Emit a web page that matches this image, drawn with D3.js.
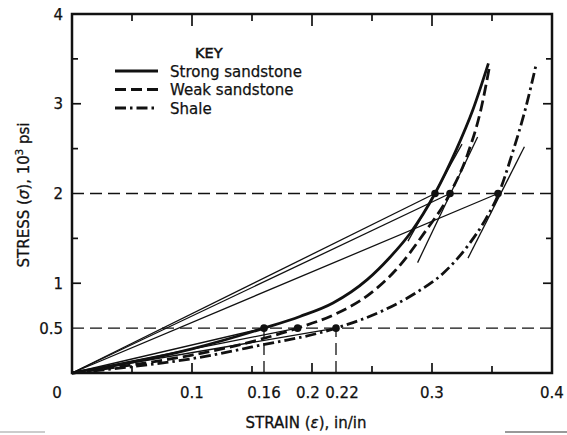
<!DOCTYPE html>
<html><head><meta charset="utf-8">
<script src="https://cdn.jsdelivr.net/npm/d3@7"></script>
<style>
html,body{margin:0;padding:0;background:#fff;}
svg{display:block;}
text{font-family:"DejaVu Sans",Verdana,sans-serif;fill:#111;}
</style></head>
<body>
<svg id="c" width="567" height="435"></svg>
<script>
// ---- data (strain in in/in, stress in 10^3 psi) ----
const strongEps = [0, 0.05, 0.10, 0.16, 0.19, 0.2175, 0.246, 0.265, 0.282, 0.3025, 0.32, 0.334, 0.347];
const strongSig = [0, 0.12, 0.27, 0.50, 0.63, 0.78, 1.04, 1.29, 1.56, 2.00, 2.48, 2.93, 3.45];
const weakEps = [0, 0.05, 0.10, 0.15, 0.188, 0.22, 0.246, 0.27, 0.293, 0.315, 0.33, 0.341, 0.348];
const weakSig = [0, 0.09, 0.20, 0.35, 0.50, 0.66, 0.86, 1.15, 1.55, 2.00, 2.45, 2.95, 3.42];
const shaleEps = [0, 0.05, 0.10, 0.15, 0.22, 0.26, 0.285, 0.31, 0.33, 0.345, 0.355, 0.367, 0.378, 0.387];
const shaleSig = [0, 0.07, 0.16, 0.29, 0.50, 0.70, 0.88, 1.12, 1.42, 1.72, 1.98, 2.45, 2.95, 3.45];
const seriesNames = ["Strong sandstone", "Weak sandstone", "Shale"];
// marked points [strain, stress]
const pointEps = [0.16, 0.188, 0.22, 0.3025, 0.315, 0.355];
const pointSig = [0.5, 0.5, 0.5, 2.0, 2.0, 2.0];
// tangent segments at the 2x10^3 psi points: [eps1, sig1, eps2, sig2]
const tangents = [[0.28, 1.47, 0.325, 2.55], [0.288, 1.23, 0.338, 2.63], [0.33, 1.28, 0.377, 2.52]];
// reference lines
const refStress = [2, 0.5];
const refStrain = [0.16, 0.22];
// ticks / labels
const xTickLabels = ["0.1", "0.16", "0.2", "0.22", "0.3", "0.4"];
const yTickLabels = ["0.5", "1", "2", "3", "4"];
const minorX = [0.05, 0.1, 0.15, 0.2, 0.25, 0.3, 0.35];
const minorY = [1, 1.5, 2.5, 3, 3.5];

const svg = d3.select("#c");
const L = 72, R = 552, T = 14, B = 373;
const x = d3.scaleLinear().domain([0, 0.4]).range([L, R]);
const y = d3.scaleLinear().domain([0, 4]).range([B, T]);

// frame
svg.append("rect").attr("x", L).attr("y", T).attr("width", R - L).attr("height", B - T)
  .attr("fill", "none").attr("stroke", "#111").attr("stroke-width", 2.5);

// ticks
const tk = svg.append("g").attr("stroke", "#111").attr("stroke-width", 1.7);
minorX.forEach(v => {
  const major = Math.abs(v * 10 - Math.round(v * 10)) < 1e-6;
  tk.append("line").attr("x1", x(v)).attr("x2", x(v)).attr("y1", T).attr("y2", T + (major ? 12 : 7));
  tk.append("line").attr("x1", x(v)).attr("x2", x(v)).attr("y1", B).attr("y2", B - (major ? 10 : 7));
});
minorY.forEach(v => {
  const len = Number.isInteger(v) ? 9 : 6;
  tk.append("line").attr("x1", L).attr("x2", L + len).attr("y1", y(v)).attr("y2", y(v));
  tk.append("line").attr("x1", R).attr("x2", R - len).attr("y1", y(v)).attr("y2", y(v));
});

// tick labels (small nudges keep the crowded 0.2 / 0.22 pair apart as in the original)
const nudge = {"0.2": -4, "0.22": 6};
xTickLabels.forEach(s => {
  svg.append("text").attr("x", x(+s) + (nudge[s] || 0)).attr("y", 398).attr("text-anchor", "middle")
    .attr("font-size", 15).attr("stroke", "#111").attr("stroke-width", 0.25).text(s);
});
svg.append("text").attr("x", 57).attr("y", 398).attr("text-anchor", "middle")
  .attr("font-size", 15).attr("stroke", "#111").attr("stroke-width", 0.25).text("0");
yTickLabels.forEach(s => {
  svg.append("text").attr("x", 63).attr("y", y(+s) + 5.5).attr("text-anchor", "end")
    .attr("font-size", 15).attr("stroke", "#111").attr("stroke-width", 0.25).text(s);
});

// axis titles
svg.append("text").attr("x", 306).attr("y", 428).attr("text-anchor", "middle")
  .attr("font-size", 15).attr("stroke", "#111").attr("stroke-width", 0.3)
  .html('STRAIN (<tspan font-style="italic">ε</tspan>), in/in');
svg.append("text").attr("transform", "translate(29,195) rotate(-90)").attr("text-anchor", "middle")
  .attr("font-size", 15).attr("stroke", "#111").attr("stroke-width", 0.3)
  .html('STRESS (<tspan font-style="italic">σ</tspan>), 10<tspan dy="-6" font-size="10">3</tspan><tspan dy="6"> psi</tspan>');

// reference dashed lines
const ref = svg.append("g").attr("stroke", "#111").attr("stroke-width", 1.3).attr("stroke-dasharray", "12,6");
refStress.forEach(v => ref.append("line").attr("x1", L).attr("x2", R).attr("y1", y(v)).attr("y2", y(v)));
refStrain.forEach(v => ref.append("line").attr("x1", x(v)).attr("x2", x(v)).attr("y1", B).attr("y2", y(0.5)));

// secant lines from origin and tangents
const thin = svg.append("g").attr("stroke", "#111").attr("stroke-width", 1.3).attr("fill", "none");
pointEps.forEach((e, i) => thin.append("line").attr("x1", x(0)).attr("y1", y(0)).attr("x2", x(e)).attr("y2", y(pointSig[i])));
tangents.forEach(t => thin.append("line").attr("x1", x(t[0])).attr("y1", y(t[1])).attr("x2", x(t[2])).attr("y2", y(t[3])));

// curves
const line = d3.line().x(d => x(d[0])).y(d => y(d[1])).curve(d3.curveMonotoneX);
const styles = [null, "11,5", "11,4,2.5,4"];
const curveData = [
  strongEps.map((e, i) => [e, strongSig[i]]),
  weakEps.map((e, i) => [e, weakSig[i]]),
  shaleEps.map((e, i) => [e, shaleSig[i]])
];
curveData.forEach((d, i) => {
  svg.append("path").attr("d", line(d)).attr("fill", "none").attr("stroke", "#111")
    .attr("stroke-width", 2.8).attr("stroke-dasharray", styles[i]);
});

// points
pointEps.forEach((e, i) => svg.append("circle").attr("cx", x(e)).attr("cy", y(pointSig[i])).attr("r", 3.8).attr("fill", "#111"));

// legend
svg.append("text").attr("x", 195).attr("y", 58).attr("font-size", 14.5).attr("stroke", "#111").attr("stroke-width", 0.5).text("KEY");
seriesNames.forEach((n, i) => {
  const yy = 71 + i * 18.5;
  svg.append("line").attr("x1", 115).attr("x2", 158).attr("y1", yy).attr("y2", yy)
    .attr("stroke", "#111").attr("stroke-width", 2.8).attr("stroke-dasharray", styles[i]);
  svg.append("text").attr("x", 170).attr("y", yy + 5.5).attr("font-size", 15)
    .attr("stroke", "#111").attr("stroke-width", 0.25).text(n);
});

// scan edge lines at bottom
svg.append("line").attr("x1", 0).attr("x2", 45).attr("y1", 432).attr("y2", 432).attr("stroke", "#999").attr("stroke-width", 1.2);
svg.append("line").attr("x1", 505).attr("x2", 567).attr("y1", 432).attr("y2", 432).attr("stroke", "#777").attr("stroke-width", 1.5);
</script>
</body></html>
